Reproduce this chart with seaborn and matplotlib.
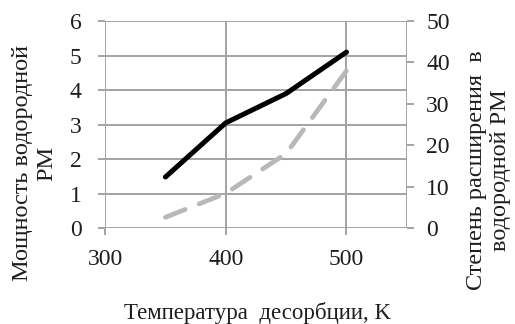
import matplotlib
matplotlib.use("Agg")
import matplotlib.pyplot as plt
import seaborn as sns
import pandas as pd

# Data
temperature = [350, 400, 450, 500]
power = [1.48, 3.05, 3.9, 5.1]
expansion = [2.6, 8.4, 18.0, 38.0]

x_ticks = [300, 400, 500]
x_grid = [300, 400, 500, 550]

df = pd.DataFrame({"T": temperature, "power": power, "expansion": expansion})

sns.set_theme(style="white")
plt.rcParams["font.family"] = ["Liberation Serif", "DejaVu Serif"]

fig = plt.figure(figsize=(5.15, 3.24), dpi=100)
ax = fig.add_axes([0.204, 0.296, 0.586, 0.639])
ax2 = ax.twinx()

grid_color = "#a3a3a3"
text_color = "#1e1e1e"

# Grid lines (horizontal on the left scale, vertical at x positions)
for gy in range(0, 7):
    ax.axhline(gy, color=grid_color, linewidth=1.4, zorder=0)
for gx in x_grid:
    ax.axvline(gx, color=grid_color, linewidth=1.4, zorder=0)

sns.lineplot(data=df, x="T", y="power", ax=ax, color="black", linewidth=3.6,
             solid_capstyle="round", zorder=3)
sns.lineplot(data=df, x="T", y="expansion", ax=ax2, color="#b8b8b8", linewidth=3.4,
             zorder=3)
ax2.lines[0].set_linestyle((0, (4.5, 3.2)))
ax2.lines[0].set_dash_capstyle("round")

ax.set_xlim(300, 550)
ax.set_ylim(0, 6)
ax2.set_ylim(0, 50)
ax.set_xticks(x_ticks)
ax.set_yticks(range(0, 7))
ax2.set_yticks(range(0, 51, 10))

for a in (ax, ax2):
    for s in a.spines.values():
        s.set_visible(False)
    a.tick_params(axis="both", labelsize=17, colors=text_color, length=5,
                  width=1.4, color=grid_color, direction="out")
ax.tick_params(axis="y", left=True, right=False, pad=12)
ax2.tick_params(axis="y", right=True, left=False, pad=9)
ax.tick_params(axis="x", bottom=True, pad=10)

ax.set_xlabel("")
ax.set_ylabel("")
ax2.set_ylabel("")

fig.text(0.50, 0.035, "Температура  десорбции, K", fontsize=16.5,
         ha="center", va="center", color=text_color)
fig.text(0.068, 0.497, "Мощность водородной\nРМ", fontsize=17.5, rotation=90,
         ha="center", va="center", multialignment="center", color=text_color,
         linespacing=1.2)
fig.text(0.948, 0.475, "Степень расширения  в\nводородной РМ", fontsize=17.5,
         rotation=90, ha="center", va="center", multialignment="center",
         color=text_color, linespacing=1.2)

fig.savefig("out.png", dpi=100)
